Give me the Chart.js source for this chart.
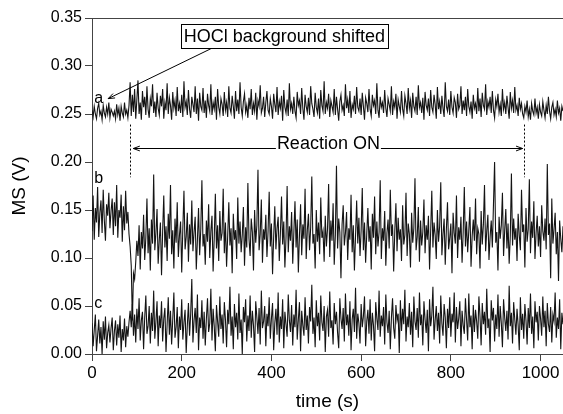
<!DOCTYPE html>
<html>
<head>
<meta charset="utf-8">
<script src="https://cdn.jsdelivr.net/npm/chart.js@4"></script>
<style>
  body { margin: 0; background: #fff; }
  canvas { display: block; }
</style>
</head>
<body>
<canvas id="msChart" width="563" height="414"></canvas>
<script>
// sample interval of the recorded traces (s); values below are in mV
const sampleStep = 2.5;

// tick labels
const xTickValues = [0, 200, 400, 600, 800, 1000];

// trace a: HOCl background
const traceA = [
  254,247,258,250,245,256,261,249,253,244,259,251,247,257,250,262,246,255,252,248,
  253,245,260,249,256,243,258,251,247,262,250,254,246,259,283,248,270,252,276,245,
  265,285,250,262,244,274,257,268,249,279,255,246,266,258,281,251,263,247,272,256,
  249,269,258,276,245,262,254,282,250,267,259,244,273,256,264,248,278,253,261,251,
  270,247,284,257,263,249,275,255,246,268,260,252,279,250,266,243,272,258,254,277,
  251,264,246,271,259,253,281,249,262,255,268,244,276,257,250,266,260,248,273,254,
  262,247,279,256,251,269,258,245,274,253,265,250,283,257,248,263,271,252,259,246,
  267,255,276,249,261,253,272,244,264,258,280,251,256,268,247,262,274,254,250,266,
  258,245,271,260,252,278,249,263,256,269,243,275,257,251,265,248,282,255,261,250,
  268,253,246,273,259,264,250,277,256,244,270,258,252,267,249,279,261,255,247,272,
  257,251,266,245,275,259,253,284,250,262,256,271,247,264,258,252,276,249,268,255,
  243,263,270,254,259,248,281,256,265,251,274,246,260,255,269,250,278,257,253,266,
  249,272,258,244,267,261,252,276,255,248,270,259,264,250,282,254,246,268,257,262,
  251,275,256,247,266,260,253,279,249,263,257,271,245,265,258,252,274,255,248,269,
  261,250,277,256,264,246,272,258,253,268,249,280,257,262,251,267,244,273,259,254,
  266,248,275,257,252,270,260,245,278,255,263,250,269,256,247,283,258,253,265,249,
  274,257,251,267,262,246,271,255,259,279,250,264,254,268,248,276,258,252,263,245,
  270,256,261,250,277,253,266,247,272,259,255,281,249,263,257,268,251,274,254,246,
  265,258,271,252,260,248,276,255,262,250,269,257,245,273,256,264,251,278,254,259,
  248,267,255,261,250,246,258,252,264,247,255,244,261,253,249,266,251,257,245,260,
  252,248,263,254,246,259,250,268,253,245,257,262,249,255,247,264,251,256,243,258,
  253
];

// trace b
const traceB = [
  128,165,119,152,137,174,122,147,160,126,171,139,118,156,144,168,131,149,162,124,
  158,133,176,121,150,142,166,117,154,129,170,136,148,125,112,92,35,84,78,96,
  118,102,134,88,127,110,145,98,121,162,105,131,87,140,115,187,108,126,151,94,
  119,137,82,128,165,111,133,97,146,120,176,104,129,89,141,116,158,101,124,138,
  85,131,170,109,122,147,96,135,114,160,107,127,143,88,119,152,103,130,181,112,
  125,93,139,117,156,100,128,144,86,121,167,110,134,97,149,118,126,172,105,137,
  91,123,158,113,131,84,146,119,129,99,163,115,138,106,124,153,92,132,111,178,
  120,102,141,127,87,150,116,134,192,108,125,161,95,130,119,145,101,128,169,112,
  136,83,122,154,109,131,143,97,126,164,114,138,90,121,175,106,133,118,148,94,
  127,159,111,140,85,124,156,103,135,120,172,99,129,146,108,132,185,115,125,89,
  150,117,137,104,163,121,128,96,144,112,130,177,101,139,118,157,93,124,196,110,
  141,127,79,135,155,113,126,148,98,131,119,166,106,134,87,123,160,115,142,102,
  129,173,108,137,95,125,152,117,133,88,146,121,164,104,138,112,127,181,99,131,
  118,149,92,126,140,110,171,123,135,86,128,157,107,142,119,130,97,155,114,124,
  168,102,136,125,90,147,116,131,183,108,122,153,96,139,113,127,161,105,134,119,
  144,88,128,170,111,137,124,99,150,117,133,179,103,125,141,93,130,158,109,121,
  136,84,147,126,115,165,100,132,119,143,95,127,174,112,138,106,129,153,91,123,
  140,118,162,104,131,125,89,149,114,135,176,107,128,145,98,122,139,111,156,200,
  116,127,87,143,120,134,168,102,129,151,110,136,94,123,188,113,141,119,131,97,
  146,124,108,171,127,135,90,152,117,130,182,105,138,121,159,99,126,144,112,133,
  101,155,128,118,141,109,198,124,136,79,162,115,130,147,104,127,76,139,120,106,
  133
];

// trace c
const traceC = [
  32,8,25,41,3,19,36,11,28,0,34,15,39,6,22,30,12,27,38,4,
  24,35,9,31,17,40,2,26,14,37,7,29,18,33,45,28,52,19,41,12,
  47,26,58,14,35,44,5,38,61,21,29,50,11,43,24,66,16,34,55,8,
  40,27,55,13,37,48,2,31,59,20,45,10,36,64,17,28,49,6,39,25,
  57,15,33,46,1,30,53,19,42,78,12,35,48,22,62,4,38,27,56,16,
  44,9,37,58,23,32,68,14,47,29,3,51,34,18,60,26,41,11,54,36,
  7,46,31,70,19,39,5,52,28,43,15,63,22,36,0,49,33,57,13,40,
  24,61,17,45,30,2,55,38,21,48,10,66,27,34,50,8,42,29,59,16,
  37,53,4,32,47,20,64,12,39,26,57,6,44,31,18,62,35,23,51,9,
  41,28,67,15,36,54,3,45,30,19,59,25,40,11,49,34,72,21,38,7,
  56,29,43,14,61,33,24,50,2,39,46,18,65,27,35,10,53,31,44,22,
  6,58,37,26,48,13,63,30,41,19,55,4,36,47,23,69,16,42,32,11,
  52,28,39,60,8,34,46,21,57,14,43,30,3,54,37,25,66,18,40,29,
  49,10,62,33,22,45,5,38,58,27,16,51,35,42,1,56,24,47,31,67,
  13,39,28,53,20,44,7,60,34,25,48,17,64,30,41,9,55,36,22,46,
  3,57,29,40,70,15,35,50,24,43,11,61,32,19,52,38,6,47,27,59,
  18,42,33,64,12,49,26,37,55,8,45,30,21,58,36,14,63,28,40,5,
  51,23,46,34,16,60,39,9,53,31,44,20,68,27,37,2,56,35,48,13,
  41,26,62,18,50,32,7,57,38,24,45,15,71,29,43,11,54,36,20,47,
  30,4,59,25,42,16,52,35,10,48,27,63,21,39,6,55,33,44,14,50,
  37,19,60,28,45,8,53,31,23,49,12,41,34,64,17,38,26,57,5,43,
  31
];

// annotation text and positions in data units
const boxText = "HOCl background shifted";
const reactionText = "Reaction ON";
const reactionStart = 84;   // s
const reactionEnd = 964;    // s
const traceLabels = ["a", "b", "c"];
const traceLabelY = [0.266, 0.183, 0.0525];

const FONT = "'Liberation Sans', Arial, sans-serif";

function toPoints(values) {
  return values.map((mv, i) => ({ x: i * sampleStep, y: mv / 1000 }));
}

function arrowHead(ctx, x1, y1, x2, y2, size) {
  const ang = Math.atan2(y2 - y1, x2 - x1);
  ctx.beginPath();
  ctx.moveTo(x2, y2);
  ctx.lineTo(x2 - size * Math.cos(ang - 0.35), y2 - size * Math.sin(ang - 0.35));
  ctx.moveTo(x2, y2);
  ctx.lineTo(x2 - size * Math.cos(ang + 0.35), y2 - size * Math.sin(ang + 0.35));
  ctx.stroke();
}

// frame top line + annotations
const annotations = {
  id: "annotations",
  afterDatasetsDraw(chart) {
    const ctx = chart.ctx;
    const x = chart.scales.x, y = chart.scales.y;
    const area = chart.chartArea;
    ctx.save();
    ctx.strokeStyle = "#444";
    ctx.lineWidth = 1;
    ctx.beginPath();
    ctx.moveTo(area.left, Math.round(area.top) + 0.5);
    ctx.lineTo(area.right, Math.round(area.top) + 0.5);
    ctx.stroke();

    ctx.fillStyle = "#000";
    ctx.strokeStyle = "#000";
    ctx.textBaseline = "middle";

    // trace letters
    ctx.font = "16px " + FONT;
    ctx.textAlign = "left";
    traceLabels.forEach((t, i) => {
      ctx.fillText(t, x.getPixelForValue(5), y.getPixelForValue(traceLabelY[i]));
    });

    // boxed label
    ctx.font = "18px " + FONT;
    const bx = x.getPixelForValue(198);
    const by = y.getPixelForValue(0.331);
    const w = ctx.measureText(boxText).width;
    ctx.fillStyle = "#fff";
    ctx.fillRect(bx, by - 12, w + 6, 24);
    ctx.fillStyle = "#000";
    ctx.strokeRect(Math.round(bx) + 0.5, Math.round(by - 12) + 0.5, Math.round(w + 6), 24);
    ctx.fillText(boxText, bx + 3, by + 1);

    // leader arrow to trace a
    const ax1 = x.getPixelForValue(265), ay1 = y.getPixelForValue(0.318);
    const ax2 = x.getPixelForValue(36), ay2 = y.getPixelForValue(0.266);
    ctx.beginPath();
    ctx.moveTo(ax1, ay1);
    ctx.lineTo(ax2, ay2);
    ctx.stroke();
    arrowHead(ctx, ax1, ay1, ax2, ay2, 7);

    // Reaction ON span
    const ry = Math.round(y.getPixelForValue(0.2143)) + 0.5;
    const rx1 = x.getPixelForValue(reactionStart + 8);
    const rx2 = x.getPixelForValue(reactionEnd - 4);
    const tw = ctx.measureText(reactionText).width;
    const tc = x.getPixelForValue(527);
    ctx.textAlign = "center";
    ctx.fillText(reactionText, tc, ry - 4);
    ctx.beginPath();
    ctx.moveTo(tc - tw / 2 - 1, ry);
    ctx.lineTo(rx1, ry);
    ctx.moveTo(tc + tw / 2 + 1, ry);
    ctx.lineTo(rx2, ry);
    ctx.stroke();
    arrowHead(ctx, tc, ry, rx1, ry, 7);
    arrowHead(ctx, tc, ry, rx2, ry, 7);

    // dashed markers for start / end
    ctx.setLineDash([2, 2]);
    [reactionStart, reactionEnd].forEach(t => {
      const px = Math.round(x.getPixelForValue(t)) + 0.5;
      ctx.beginPath();
      ctx.moveTo(px, y.getPixelForValue(0.239));
      ctx.lineTo(px, y.getPixelForValue(0.184));
      ctx.stroke();
    });
    ctx.restore();
  }
};

const lineStyle = {
  borderColor: "#141414",
  borderWidth: 1.1,
  pointRadius: 0,
  tension: 0,
  fill: false
};

new Chart(document.getElementById("msChart"), {
  type: "line",
  data: {
    datasets: [
      { label: "a", data: toPoints(traceA), ...lineStyle },
      { label: "b", data: toPoints(traceB), ...lineStyle },
      { label: "c", data: toPoints(traceC), ...lineStyle }
    ]
  },
  options: {
    responsive: false,
    animation: false,
    devicePixelRatio: 1,
    layout: { padding: { top: 18, right: 0, left: 0, bottom: 0 } },
    plugins: {
      legend: { display: false },
      tooltip: { enabled: false }
    },
    scales: {
      x: {
        type: "linear",
        min: 0,
        max: 1050,
        border: { color: "#444" },
        grid: { display: true, drawOnChartArea: false, drawTicks: true, tickLength: 7, color: "#444" },
        ticks: {
          color: "#000",
          padding: 2,
          autoSkip: false,
          maxRotation: 0,
          font: { family: FONT, size: 17 },
          callback: v => String(v)
        },
        afterBuildTicks(scale) {
          scale.ticks = xTickValues.map(v => ({ value: v }));
        },
        title: {
          display: true,
          text: "time (s)",
          color: "#000",
          padding: { top: 0, bottom: 1 },
          font: { family: FONT, size: 19 }
        },
        afterFit(scale) { scale.height = 60; }
      },
      y: {
        min: 0,
        max: 0.35,
        border: { color: "#444" },
        grid: { display: true, drawOnChartArea: false, drawTicks: true, tickLength: 7, color: "#444" },
        ticks: {
          stepSize: 0.05,
          color: "#000",
          padding: 3,
          font: { family: FONT, size: 16 },
          callback: v => v.toFixed(2)
        },
        title: {
          display: true,
          text: "MS (V)",
          color: "#000",
          padding: { top: 8, bottom: 0 },
          font: { family: FONT, size: 19 }
        },
        afterFit(scale) { scale.width = 92; }
      }
    }
  },
  plugins: [annotations]
});
</script>
</body>
</html>
